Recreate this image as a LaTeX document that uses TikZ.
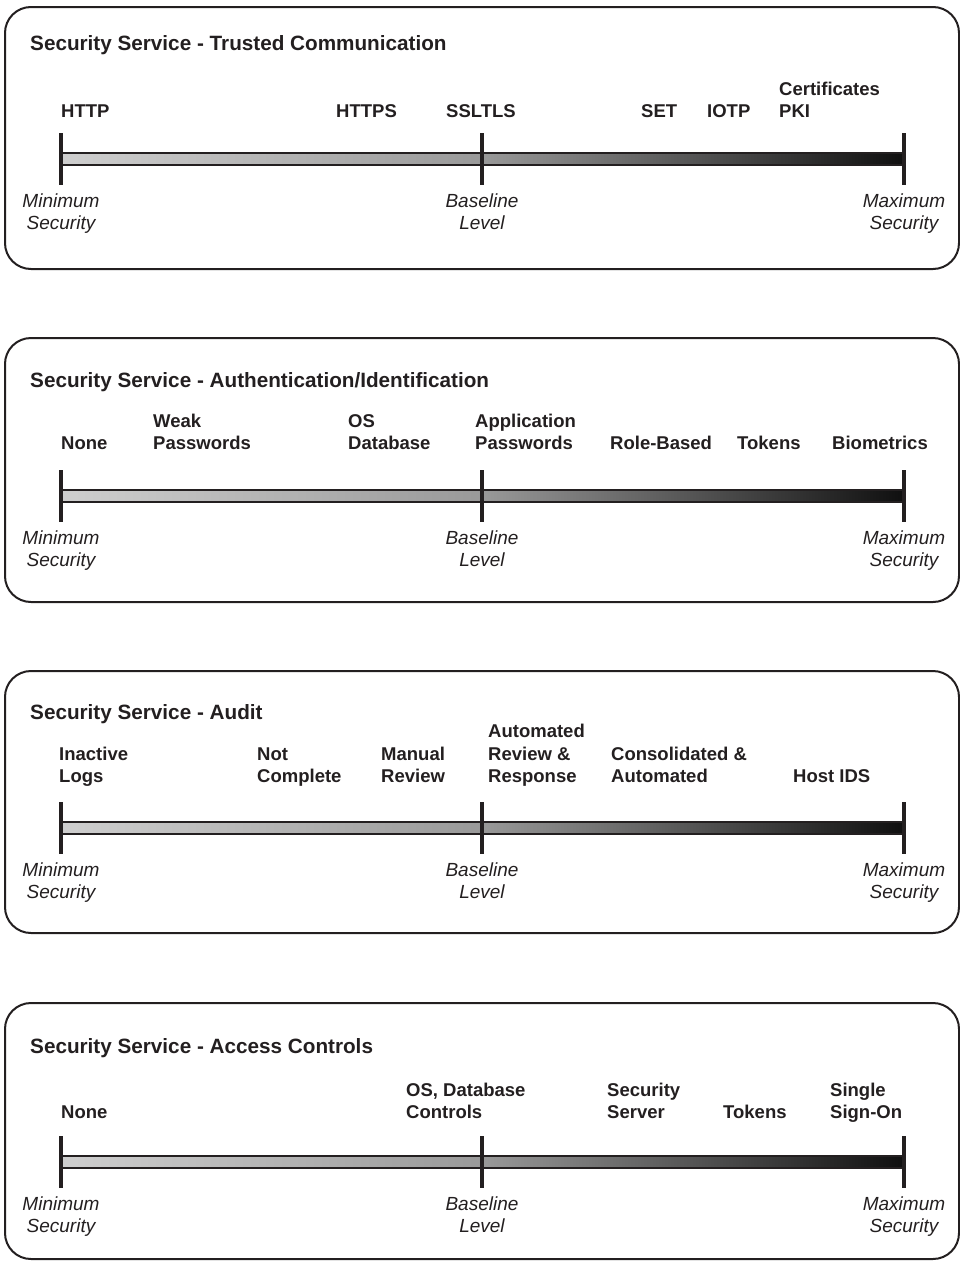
\documentclass[tikz,border=0pt]{standalone}
\usepackage{fontspec}
\setmainfont{Liberation Sans}
\definecolor{ink}{HTML}{231F20}
\tikzset{
  panel/.style={draw=ink, line width=2pt, rounded corners=26pt},
  tickmark/.style={draw=ink, line width=4.5pt},
  scalebar/.style={draw=ink, line width=2pt, left color=black!19, right color=black!94, middle color=black!40},
  heading/.style={font=\fontsize{20.7}{24}\selectfont\bfseries, inner sep=0pt, anchor=base west, text=ink},
  level/.style={font=\fontsize{18.5}{22.5}\selectfont\bfseries, inner sep=0pt, anchor=south west, text depth=0pt, align=left, text=ink},
  endlabel/.style={font=\fontsize{19}{22.5}\selectfont\itshape, inner sep=0pt, anchor=south, text depth=0pt, align=center, text=ink},
}
% #1 prefix, #2 panel top, #3 panel bottom, #4 top of the tick marks, #5 heading
\newcommand\SecurityScale[5]{%
  \draw[panel] (5,#2) rectangle (959,#3);
  \path[scalebar] (61,#4+20) rectangle (904,#4+32);
  \draw[tickmark] (61,#4) -- (61,#4+52);
  \draw[tickmark] (482,#4) -- (482,#4+52);
  \draw[tickmark] (904,#4) -- (904,#4+52);
  \node[heading] (#1-title) at (30,#4-83) {#5};
  \node[endlabel] (#1-min) at (61,#4+97) {Minimum\\Security};
  \node[endlabel] (#1-base) at (482,#4+97) {Baseline\\Level};
  \node[endlabel] (#1-max) at (904,#4+97) {Maximum\\Security};
}
\begin{document}
\begin{tikzpicture}[x=1pt,y=-1pt]
\useasboundingbox (0,0) rectangle (959,1261);

% Trusted communication
\SecurityScale{tc}{7}{269}{133}{Security Service - Trusted Communication}
\node[level] (tc-http)  at (61,118)  {HTTP};
\node[level] (tc-https) at (336,118) {HTTPS};
\node[level] (tc-ssl)   at (446,118) {SSLTLS};
\node[level] (tc-set)   at (641,118) {SET};
\node[level] (tc-iotp)  at (707,118) {IOTP};
\node[level] (tc-pki)   at (779,118) {Certificates\\PKI};

% Authentication / identification
\SecurityScale{au}{338}{602}{470}{Security Service - Authentication/Identification}
\node[level] (au-none)  at (61,450)  {None};
\node[level] (au-weak)  at (153,450) {Weak\\Passwords};
\node[level] (au-os)    at (348,450) {OS\\Database};
\node[level] (au-app)   at (475,450) {Application\\Passwords};
\node[level] (au-role)  at (610,450) {Role-Based};
\node[level] (au-tok)   at (737,450) {Tokens};
\node[level] (au-bio)   at (832,450) {Biometrics};

% Audit
\SecurityScale{ad}{671}{933}{802}{Security Service - Audit}
\node[level] (ad-inact) at (59,783)  {Inactive\\Logs};
\node[level] (ad-notc)  at (257,783) {Not\\Complete};
\node[level] (ad-man)   at (381,783) {Manual\\Review};
\node[level] (ad-auto)  at (488,783) {Automated\\Review \&\\Response};
\node[level] (ad-cons)  at (611,783) {Consolidated \&\\Automated};
\node[level] (ad-ids)   at (793,783) {Host IDS};

% Access controls
\SecurityScale{ac}{1003}{1259}{1136}{Security Service - Access Controls}
\node[level] (ac-none)  at (61,1119)  {None};
\node[level] (ac-os)    at (406,1119) {OS, Database\\Controls};
\node[level] (ac-srv)   at (607,1119) {Security\\Server};
\node[level] (ac-tok)   at (723,1119) {Tokens};
\node[level] (ac-sso)   at (830,1119) {Single\\Sign-On};
\end{tikzpicture}
\end{document}
